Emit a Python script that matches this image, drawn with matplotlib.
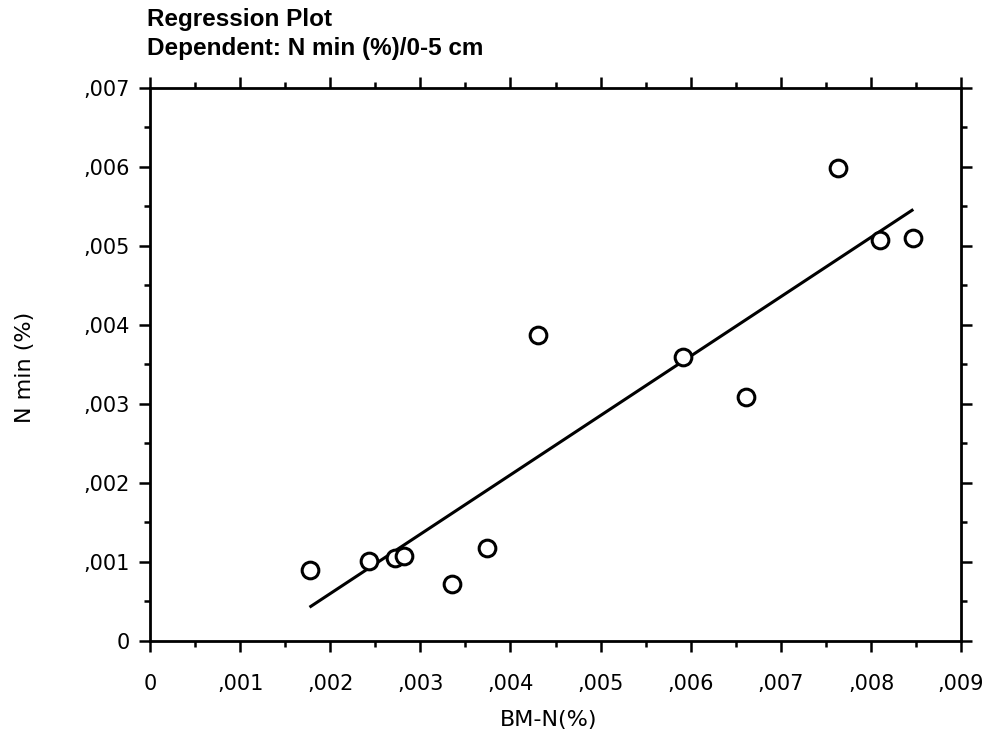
import numpy as np
import matplotlib
matplotlib.use("Agg")
import matplotlib.pyplot as plt
from matplotlib.ticker import MultipleLocator, FuncFormatter

# Microbial biomass N versus N mineralisation, 0-5 cm layer
bm_n = [0.00177, 0.00243, 0.00272, 0.00282, 0.00335, 0.00374,
        0.00431, 0.00591, 0.00661, 0.00763, 0.00810, 0.00847]
n_min = [0.00090, 0.00101, 0.00104, 0.00107, 0.00072, 0.00117,
         0.00387, 0.00359, 0.00308, 0.00599, 0.00507, 0.00510]

x_ticks = [0, 0.001, 0.002, 0.003, 0.004, 0.005, 0.006, 0.007, 0.008, 0.009]
y_ticks = [0, 0.001, 0.002, 0.003, 0.004, 0.005, 0.006, 0.007]

plt.rcParams['font.family'] = ['DejaVu Sans']

fig = plt.figure(figsize=(9.98, 7.38), dpi=100)
ax = fig.add_axes([0.1503, 0.132, 0.8127, 0.7488])

# least-squares regression line over the observed range
x = np.array(bm_n)
y = np.array(n_min)
slope, intercept = np.polyfit(x, y, 1)
xs = np.array([x.min(), x.max()])
ax.plot(xs, slope * xs + intercept, color='black', lw=2.2, solid_capstyle='butt', zorder=2)

ax.plot(bm_n, n_min, linestyle='none', marker='o', markersize=12,
        markerfacecolor='white', markeredgecolor='black', markeredgewidth=2.2, zorder=3)

ax.set_xlim(x_ticks[0], x_ticks[-1])
ax.set_ylim(y_ticks[0], y_ticks[-1])
ax.set_xticks(x_ticks)
ax.set_yticks(y_ticks)
ax.xaxis.set_minor_locator(MultipleLocator(0.0005))
ax.yaxis.set_minor_locator(MultipleLocator(0.0005))


def comma_fmt(v, pos):
    if abs(v) < 1e-12:
        return "0"
    return ("%.3f" % v).replace("0.", ",", 1)


ax.xaxis.set_major_formatter(FuncFormatter(comma_fmt))
ax.yaxis.set_major_formatter(FuncFormatter(comma_fmt))

for s in ax.spines.values():
    s.set_linewidth(2.0)

ax.tick_params(which='major', direction='out', length=8, width=1.8,
               top=True, right=True, labelsize=15)
ax.tick_params(which='minor', direction='out', length=4.5, width=1.8,
               top=True, right=True)
ax.tick_params(axis='x', which='major', pad=16)
ax.tick_params(axis='y', which='major', pad=6.5)

ax.set_xlabel("BM-N(%)", fontsize=16)
ax.xaxis.set_label_coords(0.491, -0.126)
ax.set_ylabel("N min (%)", fontsize=16)
ax.yaxis.set_label_coords(-0.142, 0.495)

fig.text(0.1473, 1 - 26 / 738, "Regression Plot", fontsize=17.5,
         fontweight='bold', family=['Liberation Sans'], ha='left', va='baseline')
fig.text(0.1473, 1 - 55 / 738, "Dependent: N min (%)/0-5 cm", fontsize=17.5,
         fontweight='bold', family=['Liberation Sans'], ha='left', va='baseline')

fig.savefig("out.png", dpi=100, facecolor='white')
